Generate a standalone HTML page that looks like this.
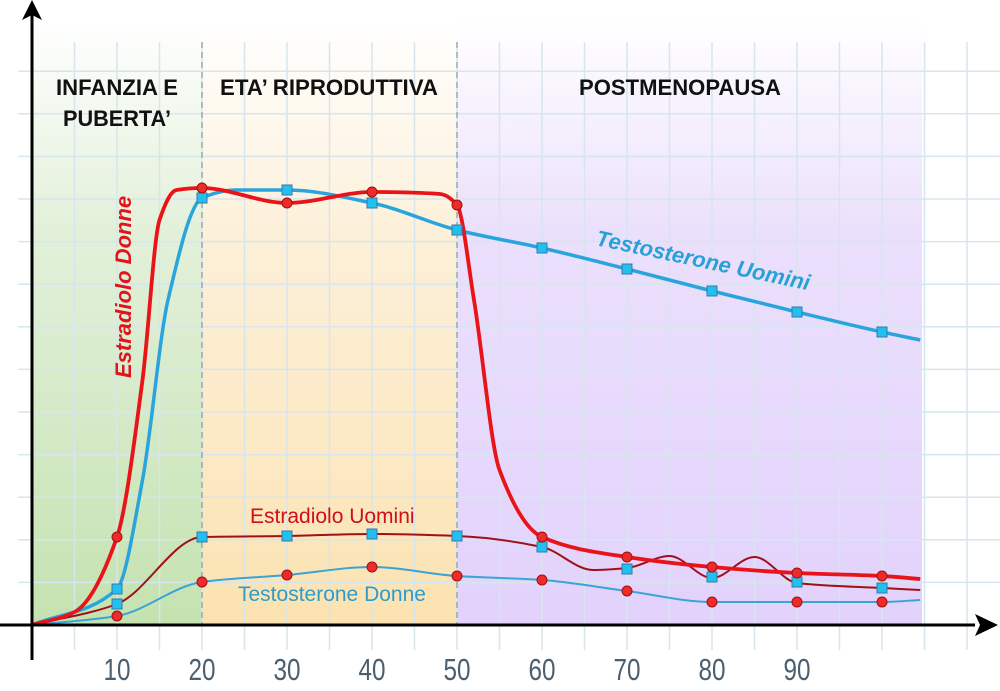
<!DOCTYPE html>
<html><head><meta charset="utf-8"><style>
body{margin:0;background:#fff}
svg{display:block}
text{font-family:"Liberation Sans",sans-serif}
</style></head><body>
<svg id="s" width="1000" height="691" viewBox="0 0 1000 691" xmlns="http://www.w3.org/2000/svg">
<defs>
<linearGradient id="g1" x1="0" y1="0" x2="0" y2="1"><stop offset="0" stop-color="#cfe6c0" stop-opacity="0"/><stop offset="0.35" stop-color="#cfe6c0" stop-opacity="0.6"/><stop offset="1" stop-color="#c4e2b0"/></linearGradient>
<linearGradient id="g2" x1="0" y1="0" x2="0" y2="1"><stop offset="0" stop-color="#fbe6c0" stop-opacity="0"/><stop offset="0.35" stop-color="#fbe6c0" stop-opacity="0.6"/><stop offset="1" stop-color="#fbe2b0"/></linearGradient>
<linearGradient id="g3" x1="0" y1="0" x2="0" y2="1"><stop offset="0" stop-color="#e6d8fb" stop-opacity="0"/><stop offset="0.35" stop-color="#e6d8fb" stop-opacity="0.8"/><stop offset="1" stop-color="#e2d2fc"/></linearGradient>
</defs>
<rect x="32" y="20" width="170" height="605" fill="url(#g1)"/>
<rect x="202" y="20" width="255" height="605" fill="url(#g2)"/>
<rect x="457" y="20" width="465" height="605" fill="url(#g3)"/>
<g id="grid" stroke="#d6e6ee" stroke-width="1.5"></g>
<line x1="202" y1="42" x2="202" y2="625" stroke="#8a9aa0" stroke-dasharray="6,4" stroke-width="1.2"/>
<line x1="457" y1="42" x2="457" y2="625" stroke="#8a9aa0" stroke-dasharray="6,4" stroke-width="1.2"/>
<g font-weight="bold" font-size="22" fill="#111">
<text x="117" y="95" text-anchor="middle" textLength="122" lengthAdjust="spacingAndGlyphs">INFANZIA E</text>
<text x="117" y="126" text-anchor="middle" textLength="108" lengthAdjust="spacingAndGlyphs">PUBERTA’</text>
<text x="329" y="95" text-anchor="middle" textLength="218" lengthAdjust="spacingAndGlyphs">ETA’ RIPRODUTTIVA</text>
<text x="680" y="95" text-anchor="middle" textLength="202" lengthAdjust="spacingAndGlyphs">POSTMENOPAUSA</text>
</g>
<g id="curves" fill="none"></g>
<g id="marks"></g>
<text x="131" y="378" transform="rotate(-90 131 378)" font-weight="bold" font-style="italic" font-size="22" fill="#e0141a">Estradiolo Donne</text>
<text x="595" y="245" transform="rotate(12 595 245)" font-weight="bold" font-style="italic" font-size="22" fill="#2aa0d8">Testosterone Uomini</text>
<text x="250" y="523" font-size="21" fill="#d01018">Estradiolo Uomini</text>
<text x="238" y="601" font-size="21" fill="#2f9cc8">Testosterone Donne</text>
<g font-size="31" fill="#4a5f70" text-anchor="middle">
<text x="117" y="680" textLength="27" lengthAdjust="spacingAndGlyphs">10</text><text x="202" y="680" textLength="27" lengthAdjust="spacingAndGlyphs">20</text><text x="287" y="680" textLength="27" lengthAdjust="spacingAndGlyphs">30</text><text x="372" y="680" textLength="27" lengthAdjust="spacingAndGlyphs">40</text><text x="457" y="680" textLength="27" lengthAdjust="spacingAndGlyphs">50</text><text x="542" y="680" textLength="27" lengthAdjust="spacingAndGlyphs">60</text><text x="627" y="680" textLength="27" lengthAdjust="spacingAndGlyphs">70</text><text x="712" y="680" textLength="27" lengthAdjust="spacingAndGlyphs">80</text><text x="797" y="680" textLength="27" lengthAdjust="spacingAndGlyphs">90</text>
</g>
<line x1="32" y1="660" x2="32" y2="14" stroke="#000" stroke-width="3"/>
<polygon points="32,0 22,20 32,15 42,20" fill="#000"/>
<line x1="0" y1="625" x2="975" y2="625" stroke="#000" stroke-width="3"/>
<polygon points="998,625 975,614 980,625 975,636" fill="#000"/>
</svg>
<script>
var ns="http://www.w3.org/2000/svg";
function el(p,t,a){var e=document.createElementNS(ns,t);for(var k in a)e.setAttribute(k,a[k]);document.getElementById(p).appendChild(e);return e;}
for(var i=0;i<24;i++){var x=32+42.5*i;if(x>1000)break;el("grid","line",{x1:x,y1:42,x2:x,y2:650});}
for(var j=1;j<14;j++){var y=625-42.6*j;el("grid","line",{x1:18,y1:y,x2:1000,y2:y});}
function X(v){return 32+8.5*v;}
function path(pts){var p=pts.map(function(q){return [X(q[0]),q[1]]});var n=p.length;
var d=[],m=[];for(var i=0;i<n-1;i++)d.push((p[i+1][1]-p[i][1])/(p[i+1][0]-p[i][0]));
m[0]=d[0];m[n-1]=d[n-2];
for(var i=1;i<n-1;i++){if(d[i-1]*d[i]<=0)m[i]=0;else{var w1=2*(p[i+1][0]-p[i][0])+(p[i][0]-p[i-1][0]),w2=(p[i+1][0]-p[i][0])+2*(p[i][0]-p[i-1][0]);m[i]=(w1+w2)/(w1/d[i-1]+w2/d[i]);}}
var s="M"+p[0][0]+","+p[0][1];
for(var i=0;i<n-1;i++){var h=(p[i+1][0]-p[i][0])/3;s+=" C"+(p[i][0]+h)+","+(p[i][1]+m[i]*h)+" "+(p[i+1][0]-h)+","+(p[i+1][1]-m[i+1]*h)+" "+p[i+1][0]+","+p[i+1][1];}
return s;}
var ed=[[0,625],[5,612],[10,537],[13,380],[15,220],[17,190],[20,188],[30,203],[40,192],[48,194],[50,205],[52,300],[55,470],[60,537],[70,557],[80,567],[90,573],[100,576],[104.5,579]];
var tu=[[0,625],[10,589],[13,480],[16,300],[20,198],[24,190],[30,190],[40,203],[50,230],[60,248],[70,269],[80,291],[90,312],[100,332],[104.5,340]];
var eu=[[0,625],[10,604],[20,537],[30,536],[40,534],[50,536],[60,547],[66,570],[70,568],[75,556],[80,578],[85,557],[90,583],[100,588],[104.5,590]];
var td=[[0,625],[10,616],[20,582],[30,575],[40,567],[50,576],[60,580],[70,591],[80,602],[90,602],[100,602],[104.5,600]];
el("curves","path",{d:path(td),stroke:"#3aa4d4","stroke-width":2});
el("curves","path",{d:path(eu),stroke:"#a01018","stroke-width":2});
el("curves","path",{d:path(tu),stroke:"#2aa4dc","stroke-width":3.5});
el("curves","path",{d:path(ed),stroke:"#e8141a","stroke-width":3.8});
function circ(v,y){el("marks","circle",{cx:X(v),cy:y,r:5,fill:"#ee2a2a",stroke:"#a01010","stroke-width":1});}
function sq(v,y){el("marks","rect",{x:X(v)-5,y:y-5,width:10,height:10,fill:"#22c0ee",stroke:"#3a78a8","stroke-width":1});}
[[10,616],[20,582],[30,575],[40,567],[50,576],[60,580],[70,591],[80,602],[90,602],[100,602]].forEach(function(p){circ(p[0],p[1]);});
[[10,604],[20,537],[30,536],[40,534],[50,536],[60,547],[70,569],[80,577],[90,582],[100,588]].forEach(function(p){sq(p[0],p[1]);});
[[10,589],[20,198],[30,190],[40,203],[50,230],[60,248],[70,269],[80,291],[90,312],[100,332]].forEach(function(p){sq(p[0],p[1]);});
[[10,537],[20,188],[30,203],[40,192],[50,205],[60,537],[70,557],[80,567],[90,573],[100,576]].forEach(function(p){circ(p[0],p[1]);});
</script>
</body></html>
